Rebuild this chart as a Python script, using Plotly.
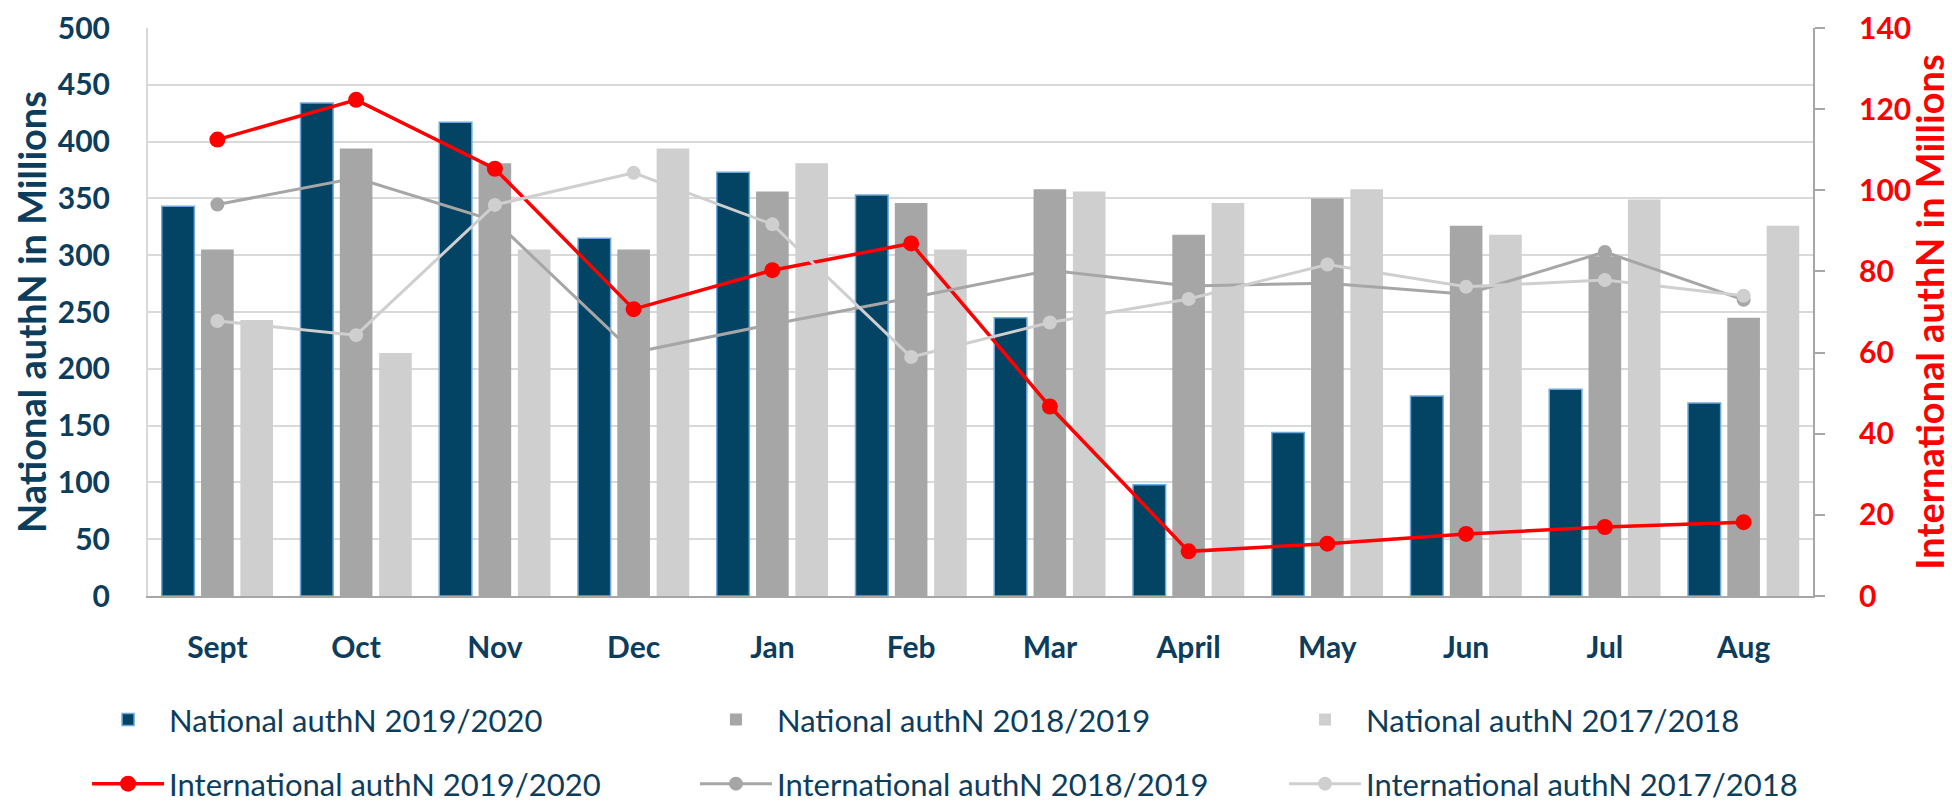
import plotly.graph_objects as go

months = ["Sept", "Oct", "Nov", "Dec", "Jan", "Feb", "Mar", "April", "May", "Jun", "Jul", "Aug"]

# National authN (left axis, millions)
nat_1920 = [343, 434, 417, 315, 373, 353, 245, 98, 144, 176, 182, 170]
nat_1819 = [305, 394, 381, 305, 356, 346, 358, 318, 350, 326, 299, 245]
nat_1718 = [243, 214, 305, 394, 381, 305, 356, 346, 358, 318, 349, 326]

# International authN (right axis, millions)
int_1920 = [112.5, 122.3, 105.3, 70.7, 80.3, 86.9, 46.7, 11.0, 12.9, 15.3, 17.0, 18.2]
int_1819 = [96.5, 103.0, 92.5, 60.0, 67.0, 73.5, 80.3, 76.4, 77.1, 74.4, 84.8, 73.0]
int_1718 = [67.8, 64.3, 96.4, 104.3, 91.6, 58.9, 67.4, 73.2, 81.7, 76.2, 77.9, 74.0]

NAVY = "#034363"
TXT = "#0d3d5c"
GRAY = "#a6a6a6"
LIGHT = "#d0cfd0"
RED = "#ff0000"
FONT = "Lato"

fig = go.Figure()
fig.add_trace(go.Bar(x=months, y=nat_1920, name="National authN 2019/2020",
                     marker=dict(color=NAVY, line=dict(color="#6fa8dc", width=1.5)),
                     legend="legend"))
fig.add_trace(go.Bar(x=months, y=nat_1819, name="National authN 2018/2019",
                     marker=dict(color=GRAY, line=dict(width=0)), legend="legend2"))
fig.add_trace(go.Bar(x=months, y=nat_1718, name="National authN 2017/2018",
                     marker=dict(color=LIGHT, line=dict(width=0)), legend="legend3"))

fig.add_trace(go.Scatter(x=months, y=int_1920, name="International authN 2019/2020", yaxis="y2",
                         mode="lines+markers", line=dict(color=RED, width=3.5),
                         marker=dict(size=16, color=RED), legend="legend4"))
fig.add_trace(go.Scatter(x=months, y=int_1819, name="International authN 2018/2019", yaxis="y2",
                         mode="lines+markers", line=dict(color=GRAY, width=3),
                         marker=dict(size=14, color=GRAY), legend="legend5"))
fig.add_trace(go.Scatter(x=months, y=int_1718, name="International authN 2017/2018", yaxis="y2",
                         mode="lines+markers", line=dict(color=LIGHT, width=3),
                         marker=dict(size=14, color=LIGHT), legend="legend6"))

legend_common = dict(orientation="h", xanchor="left", yanchor="middle", itemwidth=72,
                     font=dict(family=FONT, size=31, color=TXT),
                     bgcolor="rgba(0,0,0,0)", borderwidth=0, visible=True)

col_x = [-0.0366, 0.3285, 0.6823]
row_y = [-0.218, -0.331]

# The page body adds an 8px offset, so the figure is sized 8px smaller.
fig.update_layout(
    width=1944, height=798,
    showlegend=True,
    margin=dict(l=140, r=139, t=20, b=210, pad=0, autoexpand=False),
    paper_bgcolor="white", plot_bgcolor="white",
    barmode="group", bargap=0.15, bargroupgap=0.17,
    xaxis=dict(type="category", automargin=False, range=[-0.5, 11.5],
               tickfont=dict(family=FONT, size=30, color=TXT, weight="bold"),
               showline=True, linecolor="#a6a6a6", linewidth=2, ticks="",
               ticklabelstandoff=24, showgrid=False),
    yaxis=dict(range=[0, 500], dtick=50, tick0=0, automargin=True,
               ticklabeloverflow="allow",
               tickfont=dict(family=FONT, size=30, color=TXT, weight="bold"),
               showgrid=True, gridcolor="#d9d9d9", gridwidth=1.5,
               showline=True, linecolor="#d9d9d9", linewidth=2, zeroline=False,
               ticks="", ticklabelstandoff=30,
               title=dict(text="National authN in Millions",
                          font=dict(family=FONT, size=38, color=TXT, weight="bold"),
                          standoff=14)),
    yaxis2=dict(overlaying="y", side="right", range=[0, 140], dtick=20, tick0=0,
                automargin=True, ticklabeloverflow="allow",
                showgrid=False, zeroline=False,
                showline=True, linecolor="#a6a6a6", linewidth=2,
                ticks="outside", ticklen=10, tickwidth=2, tickcolor="#a6a6a6",
                ticklabelstandoff=28,
                tickfont=dict(family=FONT, size=30, color=RED, weight="bold"),
                title=dict(text="International authN in Millions",
                           font=dict(family=FONT, size=38, color=RED, weight="bold"),
                           standoff=22)),
    legend=dict(x=col_x[0], y=row_y[0], **legend_common),
    legend2=dict(x=col_x[1], y=row_y[0], **legend_common),
    legend3=dict(x=col_x[2], y=row_y[0], **legend_common),
    legend4=dict(x=col_x[0], y=row_y[1], **legend_common),
    legend5=dict(x=col_x[1], y=row_y[1], **legend_common),
    legend6=dict(x=col_x[2], y=row_y[1], **legend_common),
)

fig.write_html("out.html")
